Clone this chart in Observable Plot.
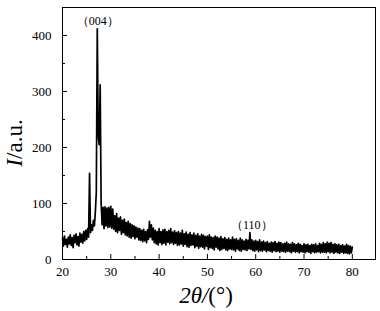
<!DOCTYPE html>
<html>
<head>
<meta charset="utf-8">
<script src="https://cdn.jsdelivr.net/npm/d3@7"></script>
<script src="https://cdn.jsdelivr.net/npm/@observablehq/plot@0.6"></script>
<style>
  html, body { margin: 0; padding: 0; background: #fff; }
  #chart svg { display: block; }
</style>
</head>
<body>
<div id="chart"></div>
<script>
// 2θ scan: start angle and step (degrees)
const thetaStart = 20;
const thetaStep = 0.2;
// Intensity readings, five per degree (20.0, 20.2, ... 20.8)
const intensity = [
  38, 24, 42, 27, 36,   // 20
  22, 40, 28, 44, 25,   // 21
  39, 21, 43, 30, 46,   // 22
  26, 41, 24, 47, 31,   // 23
  45, 29, 50, 33, 52,   // 24
  36, 55, 40, 154, 48,  // 25
  62, 52, 70, 60, 85,   // 26
  120, 412, 220, 205, 312, // 27
  100, 62, 93, 55, 94,  // 28
  60, 92, 57, 93, 58,   // 29
  95, 56, 90, 54, 78,   // 30
  50, 82, 48, 74, 52,   // 31
  76, 45, 70, 48, 72,   // 32
  44, 66, 42, 68, 40,   // 33
  64, 38, 62, 41, 60,   // 34
  37, 58, 40, 56, 35,   // 35
  55, 34, 52, 32, 54,   // 36
  33, 50, 30, 53, 36,   // 37
  68, 40, 62, 35, 56,   // 38
  30, 52, 28, 50, 26,   // 39
  55, 30, 50, 27, 53,   // 40
  29, 54, 26, 50, 31,   // 41
  52, 28, 55, 30, 49,   // 42
  27, 51, 29, 48, 25,   // 43
  50, 26, 47, 28, 52,   // 44
  24, 46, 27, 49, 23,   // 45
  45, 22, 48, 25, 44,   // 46
  26, 47, 21, 43, 24,   // 47
  46, 20, 42, 23, 45,   // 48
  22, 43, 19, 41, 24,   // 49
  42, 18, 44, 21, 40,   // 50
  20, 39, 17, 42, 22,   // 51
  40, 19, 38, 16, 41,   // 52
  18, 37, 20, 39, 17,   // 53
  36, 16, 38, 19, 35,   // 54
  18, 40, 17, 36, 15,   // 55
  37, 19, 34, 16, 38,   // 56
  15, 35, 18, 33, 17,   // 57
  36, 16, 34, 19, 48,   // 58
  18, 35, 16, 33, 15,   // 59
  34, 17, 32, 14, 35,   // 60
  16, 31, 15, 33, 17,   // 61
  30, 14, 32, 16, 29,   // 62
  15, 31, 13, 30, 16,   // 63
  32, 14, 29, 15, 31,   // 64
  13, 30, 15, 28, 14,   // 65
  29, 13, 31, 15, 28,   // 66
  14, 27, 12, 30, 15,   // 67
  28, 13, 26, 14, 29,   // 68
  12, 27, 14, 25, 13,   // 69
  28, 12, 26, 14, 27,   // 70
  13, 25, 11, 27, 14,   // 71
  26, 12, 28, 13, 25,   // 72
  14, 29, 12, 27, 13,   // 73
  30, 13, 28, 12, 31,   // 74
  14, 29, 12, 30, 13,   // 75
  27, 11, 28, 13, 26,   // 76
  12, 27, 11, 25, 13,   // 77
  26, 11, 24, 12, 27,   // 78
  11, 25, 10, 24, 12,   // 79
  22                    // 80
];
const xTicks = [20, 30, 40, 50, 60, 70, 80];
const xMinorTicks = [25, 35, 45, 55, 65, 75];
const yTicks = [0, 100, 200, 300, 400];
const yMinorTicks = [50, 150, 250, 350];
const peakLabels = ["（004）", "（110）"];
const peakTheta = [27.3, 59.2];
const peakLabelI = [425, 62];

const scan = intensity.map((v, i) => ({theta: +(thetaStart + i * thetaStep).toFixed(1), I: v}));
const peaks = peakLabels.map((t, i) => ({label: t, theta: peakTheta[i], I: peakLabelI[i]}));

const serif = '"Liberation Serif", "Times New Roman", Times, serif';

const chart = Plot.plot({
  width: 380,
  height: 311,
  marginLeft: 62,
  marginRight: 5,
  marginTop: 7,
  marginBottom: 52,
  style: {fontFamily: serif, fontSize: "13px", color: "black", background: "white"},
  x: {domain: [20, 84.8]},
  y: {domain: [0, 450]},
  marks: [
    Plot.line(scan, {x: "theta", y: "I", stroke: "black", strokeWidth: 1.7, strokeLinejoin: "round"}),
    Plot.frame({stroke: "black", strokeWidth: 1}),
    Plot.axisX({ticks: xTicks, tickSize: -5, tickPadding: 12, label: null, tickFormat: d => d}),
    Plot.axisX({ticks: xMinorTicks, tickSize: -3, text: null, label: null}),
    Plot.axisY({ticks: yTicks, tickSize: -5, tickPadding: 16, label: null, tickFormat: d => d}),
    Plot.axisY({ticks: yMinorTicks, tickSize: -3, text: null, label: null}),
    Plot.text(peaks, {x: "theta", y: "I", text: "label", fontSize: 12, fill: "black"})
  ]
});

const svg = d3.select(chart);
// x-axis title
const xt = svg.append("text")
  .attr("x", 206).attr("y", 303)
  .attr("text-anchor", "middle")
  .attr("font-family", serif).attr("font-size", 23).attr("fill", "black");
xt.append("tspan").attr("font-style", "italic").text("2θ/");
xt.append("tspan").text("(°)");
// y-axis title
const yt = svg.append("text")
  .attr("transform", "translate(22,143) rotate(-90)")
  .attr("text-anchor", "middle")
  .attr("font-family", serif).attr("font-size", 23).attr("fill", "black");
yt.append("tspan").attr("font-style", "italic").text("I");
yt.append("tspan").text("/a.u.");

document.getElementById("chart").appendChild(chart);
</script>
</body>
</html>
